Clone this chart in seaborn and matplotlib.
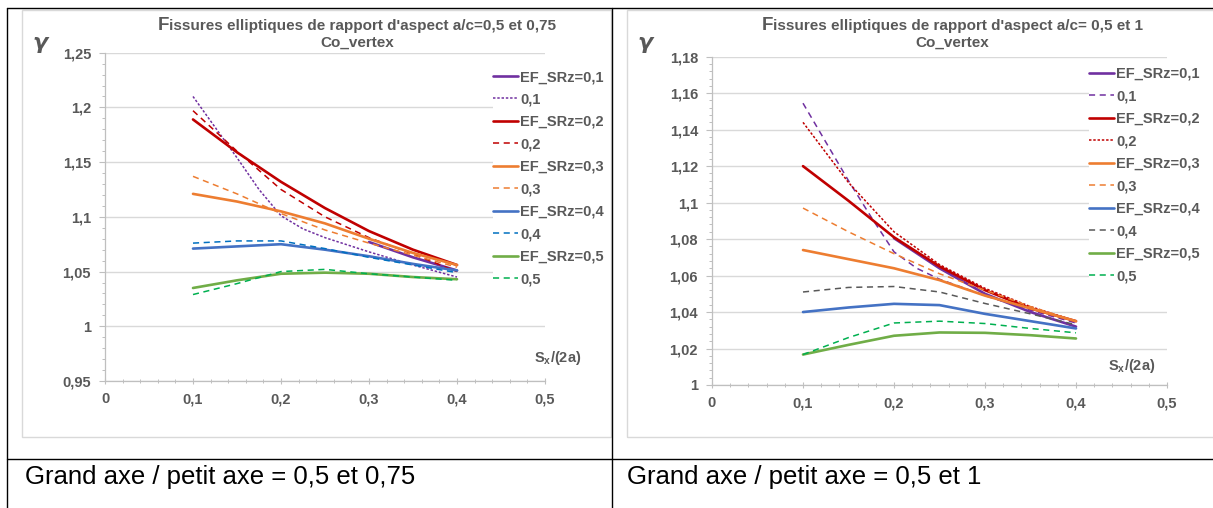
import matplotlib
matplotlib.use("Agg")
import matplotlib.pyplot as plt
from matplotlib.lines import Line2D
from matplotlib.patches import Rectangle
from matplotlib.ticker import MultipleLocator, FuncFormatter
import seaborn as sns

sns.set_theme(style="white")
plt.rcParams['font.family'] = ['Liberation Sans', 'DejaVu Sans']
plt.rcParams['font.weight'] = 'bold'

GREY = '#595959'
AXCOL = '#bfbfbf'
GRID = '#d9d9d9'

# abscisses S_x/(2a)
xs = [0.1, 0.15, 0.2, 0.25, 0.3, 0.35, 0.4]
xs_fine = [0.1, 0.15, 0.175, 0.2, 0.225, 0.25, 0.3, 0.35, 0.4]
xs_a_ef01 = [0.3, 0.35, 0.4]
xs_b_ef01 = [0.2, 0.25, 0.3, 0.35, 0.4]

# a/c = 0,5 et 0,75
a_ef01 = [1.077, 1.063, 1.051]
a_01 = [1.210, 1.154, 1.125, 1.101, 1.089, 1.081, 1.068, 1.056, 1.045]
a_ef02 = [1.189, 1.159, 1.132, 1.108, 1.087, 1.070, 1.056]
a_02 = [1.197, 1.160, 1.125, 1.100, 1.081, 1.066, 1.050]
a_ef03 = [1.121, 1.114, 1.105, 1.094, 1.080, 1.067, 1.056]
a_03 = [1.137, 1.121, 1.103, 1.088, 1.076, 1.065, 1.054]
a_ef04 = [1.071, 1.073, 1.075, 1.070, 1.064, 1.057, 1.051]
a_04 = [1.076, 1.078, 1.078, 1.071, 1.063, 1.056, 1.049]
a_ef05 = [1.035, 1.042, 1.048, 1.049, 1.048, 1.045, 1.043]
a_05 = [1.029, 1.039, 1.050, 1.052, 1.048, 1.045, 1.042]

# a/c = 0,5 et 1
b_ef01 = [1.0805, 1.064, 1.050, 1.040, 1.032]
b_01 = [1.1545, 1.112, 1.092, 1.073, 1.064, 1.058, 1.049, 1.041, 1.034]
b_ef02 = [1.120, 1.101, 1.081, 1.065, 1.052, 1.042, 1.035]
b_02 = [1.144, 1.111, 1.084, 1.066, 1.053, 1.043, 1.035]
b_ef03 = [1.074, 1.069, 1.064, 1.0575, 1.049, 1.042, 1.035]
b_03 = [1.097, 1.084, 1.072, 1.061, 1.052, 1.043, 1.035]
b_ef04 = [1.040, 1.0425, 1.0445, 1.0438, 1.039, 1.035, 1.031]
b_04 = [1.051, 1.0535, 1.054, 1.051, 1.0447, 1.039, 1.033]
b_ef05 = [1.0167, 1.022, 1.027, 1.0288, 1.0286, 1.0273, 1.0255]
b_05 = [1.0167, 1.026, 1.034, 1.035, 1.0337, 1.031, 1.0286]

labels = ["EF_SRz=0,1", "0,1", "EF_SRz=0,2", "0,2", "EF_SRz=0,3", "0,3",
          "EF_SRz=0,4", "0,4", "EF_SRz=0,5", "0,5"]

PURPLE, RED, ORANGE = '#7030A0', '#C00000', '#ED7D31'
BLUE, LBLUE, GREEN, LGREEN = '#4472C4', '#0070C0', '#70AD47', '#00B050'
SOLID = dict(lw=1.9)
DASH = dict(lw=1.1, dashes=(4, 3))
DOT = dict(lw=1.1, dashes=(1.6, 1.2))

left_series = [
    (xs_a_ef01, a_ef01, PURPLE, SOLID), (xs_fine, a_01, PURPLE, DOT),
    (xs, a_ef02, RED, SOLID), (xs, a_02, RED, DASH),
    (xs, a_ef03, ORANGE, SOLID), (xs, a_03, ORANGE, DASH),
    (xs, a_ef04, BLUE, SOLID), (xs, a_04, LBLUE, DASH),
    (xs, a_ef05, GREEN, SOLID), (xs, a_05, LGREEN, DASH),
]
right_series = [
    (xs_b_ef01, b_ef01, PURPLE, SOLID), (xs_fine, b_01, PURPLE, DASH),
    (xs, b_ef02, RED, SOLID), (xs, b_02, RED, DOT),
    (xs, b_ef03, ORANGE, SOLID), (xs, b_03, ORANGE, DASH),
    (xs, b_ef04, BLUE, SOLID), (xs, b_04, GREY, DASH),
    (xs, b_ef05, GREEN, SOLID), (xs, b_05, LGREEN, DASH),
]

W, H = 1213, 508
fig = plt.figure(figsize=(W / 100, H / 100), dpi=100)


def fx(px):
    return px / W


def fy(py):
    return 1 - py / H


def comma(v, pos):
    return f"{v:g}".replace('.', ',')


def draw_chart(rect, series, ylim, ymajor, yminor, leg_xy):
    ax = fig.add_axes(rect)
    for (x, y, col, st), lab in zip(series, labels):
        sns.lineplot(x=x, y=y, ax=ax, color=col, label=lab, **st)
    ax.set_xlim(0, 0.5)
    ax.set_ylim(*ylim)
    ax.xaxis.set_major_locator(MultipleLocator(0.1))
    ax.xaxis.set_minor_locator(MultipleLocator(0.02))
    ax.yaxis.set_major_locator(MultipleLocator(ymajor))
    ax.yaxis.set_minor_locator(MultipleLocator(yminor))
    ax.xaxis.set_major_formatter(FuncFormatter(comma))
    ax.yaxis.set_major_formatter(FuncFormatter(comma))
    ax.grid(axis='y', color=GRID, lw=1)
    ax.set_xlabel('')
    ax.set_ylabel('')
    for s in ['top', 'right']:
        ax.spines[s].set_visible(False)
    for s in ['left', 'bottom']:
        ax.spines[s].set_color(AXCOL)
        ax.spines[s].set_linewidth(0.9)
    ax.tick_params(axis='both', which='major', labelsize=10.5,
                   labelcolor=GREY, color=AXCOL, length=4, width=0.8, pad=6,
                   left=True, bottom=True)
    ax.tick_params(axis='both', which='minor', color=AXCOL, length=2.5,
                   width=0.7, left=True, bottom=True)
    ax.tick_params(axis='x', which='both', direction='inout')
    leg = ax.legend(loc='upper left', bbox_to_anchor=leg_xy,
                    bbox_transform=fig.transFigure, frameon=True,
                    facecolor='white', edgecolor='none', framealpha=1,
                    fancybox=False, borderpad=0, borderaxespad=0,
                    handlelength=1.7, handletextpad=0.15, labelspacing=0.58,
                    prop={'weight': 'bold', 'size': 10.5}, labelcolor=GREY)
    leg.set_zorder(5)
    return ax


ax1 = draw_chart([fx(105), fy(381), fx(440), (381 - 52.7) / H], left_series,
                 (0.95, 1.25), 0.05, 0.01, (fx(493), fy(70)))
ax2 = draw_chart([fx(712), fy(385), fx(455), (385 - 56.7) / H], right_series,
                 (1.0, 1.18), 0.02, 0.004, (fx(1089), fy(67)))

# titres (le "F" initial est plus grand, comme dans Excel)
r = fig.canvas.get_renderer()
for cx, t1 in [(357, "issures elliptiques de rapport d'aspect a/c=0,5 et 0,75"),
               (952, "issures elliptiques de rapport d'aspect a/c= 0,5 et 1")]:
    tf = fig.text(0, fy(30), "F", ha='left', va='baseline', fontsize=13.5,
                  color=GREY)
    tr = fig.text(0, fy(30), t1, ha='left', va='baseline', fontsize=11,
                  color=GREY)
    wf = tf.get_window_extent(r).width
    wr = tr.get_window_extent(r).width
    x0 = cx - (wf + wr) / 2
    tf.set_x(fx(x0))
    tr.set_x(fx(x0 + wf))
    fig.text(fx(cx), fy(43), "Co_vertex", ha='center', va='center',
             fontsize=11, color=GREY)

# symbole gamma et libellé de l'axe x
for gx in [40, 645]:
    fig.text(fx(gx), fy(43), "γ", ha='center', va='center', fontsize=16,
             color=GREY, family='DejaVu Sans', style='italic')
for sx, sy in [(558, 358), (1132, 366)]:
    fig.text(fx(sx), fy(sy), r"S$_\mathregular{x}$/(2a)", ha='center',
             va='center', fontsize=10.5, color=GREY)

# cadres des graphiques
for x0, x1 in [(22, 611), (627, 1230)]:
    fig.add_artist(Rectangle((fx(x0), fy(437)), fx(x1 - x0), (437 - 10) / H,
                             transform=fig.transFigure, fill=False,
                             edgecolor=GRID, lw=1, zorder=0))

# lignes du tableau
tab = dict(transform=fig.transFigure, color='black', lw=1.0)
fig.add_artist(Line2D([fx(7), 1], [fy(8), fy(8)], **tab))
fig.add_artist(Line2D([fx(7), fx(7)], [0, fy(8)], **tab))
fig.add_artist(Line2D([fx(612), fx(612)], [0, fy(8)], **tab))
fig.add_artist(Line2D([fx(7), 1], [fy(459), fy(459)], **tab))

# légendes du tableau
for tx, txt in [(25, "Grand axe / petit axe = 0,5 et 0,75"),
                (627, "Grand axe / petit axe = 0,5 et 1")]:
    fig.text(fx(tx), fy(477), txt, ha='left', va='center', fontsize=18.5,
             fontweight='normal', color='black')

fig.savefig('out.png', dpi=100)
